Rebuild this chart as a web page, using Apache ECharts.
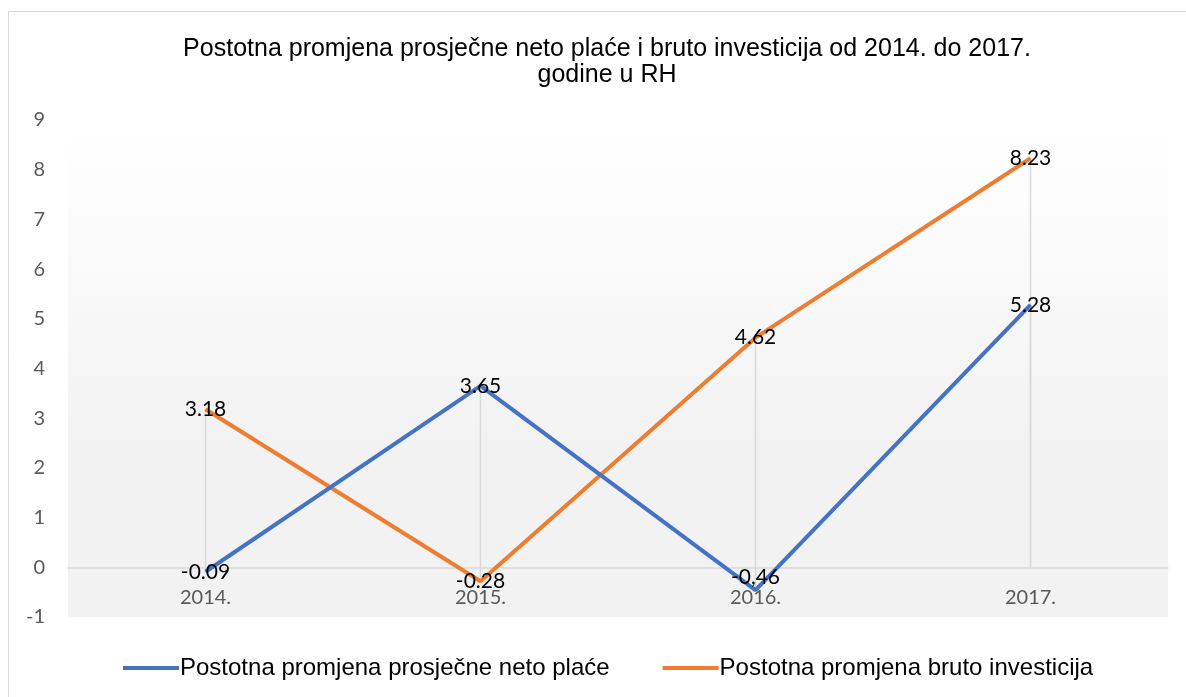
<!DOCTYPE html>
<html>
<head>
<meta charset="utf-8">
<script src="https://cdn.jsdelivr.net/npm/echarts@6/dist/echarts.min.js"></script>
<style>
  html, body { margin: 0; padding: 0; background: #fff; }
  #chart { width: 1186px; height: 697px; }
</style>
</head>
<body>
<div id="chart"></div>
<script>
// podaci
var godine = ['2014.', '2015.', '2016.', '2017.'];
var netoPlace = [-0.09, 3.65, -0.46, 5.28];
var brutoInvesticije = [3.18, -0.28, 4.62, 8.23];
// oznake kako su napisane na slici (2016. ima zarez)
var netoOznake = ['-0.09', '3.65', '-0,46', '5.28'];
var brutoOznake = ['3.18', '-0.28', '4.62', '8.23'];

var nazivNeto = 'Postotna promjena prosječne neto plaće';
var nazivBruto = 'Postotna promjena bruto investicija';

var chart = echarts.init(document.getElementById('chart'));

// okomite linije od točke do osi
var dropData = [];
godine.forEach(function (g, i) {
    dropData.push([i, netoPlace[i]]);
    dropData.push([i, brutoInvesticije[i]]);
});

function dropLine(params, api) {
    var a = api.coord([api.value(0), api.value(1)]);
    var b = api.coord([api.value(0), 0]);
    return {
        type: 'line',
        shape: { x1: a[0], y1: a[1], x2: b[0], y2: b[1] },
        style: { stroke: '#d9d9d9', lineWidth: 1.5 }
    };
}

function oznaka(lista) {
    return {
        show: true,
        position: 'inside',
        fontFamily: 'Lato',
        fontSize: 21,
        color: '#000',
        formatter: function (p) { return lista[p.dataIndex]; }
    };
}

// oznaka za 2016. je u Excelu malo podignuta
var netoData = netoPlace.map(function (v, i) {
    if (i === 2) return { value: v, label: { offset: [0, -13] } };
    return v;
});

var option = {
    backgroundColor: '#ffffff',
    animation: false,
    graphic: [{
        type: 'rect',
        shape: { x: 8.5, y: 11.5, width: 1190, height: 700 },
        style: { fill: 'none', stroke: '#d9d9d9', lineWidth: 1 },
        silent: true
    }],
    title: {
        text: 'Postotna promjena prosječne neto plaće i bruto investicija od 2014. do 2017.\ngodine u RH',
        left: 602,
        textAlign: 'center',
        top: 31,
        textStyle: {
            fontFamily: 'Liberation Sans',
            fontSize: 25,
            fontWeight: 'normal',
            color: '#000',
            lineHeight: 26
        }
    },
    legend: {
        data: [nazivNeto, nazivBruto],
        left: 118,
        top: 651,
        icon: 'rect',
        itemWidth: 56,
        itemHeight: 4,
        itemGap: 53,
        textStyle: { fontFamily: 'Liberation Sans', fontSize: 24, color: '#000', padding: [0, 0, 0, -4] }
    },
    grid: {
        left: 68,
        right: 18,
        top: 120,
        bottom: 80,
        show: true,
        borderWidth: 0,
        backgroundColor: {
            type: 'linear', x: 0, y: 0, x2: 0, y2: 1,
            colorStops: [
                { offset: 0, color: '#ffffff' },
                { offset: 0.13, color: '#fdfdfd' },
                { offset: 0.65, color: '#f2f2f2' },
                { offset: 1, color: '#f2f2f2' }
            ]
        }
    },
    xAxis: {
        type: 'category',
        data: godine,
        boundaryGap: true,
        axisLine: { show: true, onZero: true, lineStyle: { color: '#d9d9d9', width: 1.5 } },
        axisTick: { show: false },
        axisLabel: { color: '#595959', fontFamily: 'Lato', fontSize: 20, margin: -29 },
        splitLine: { show: false }
    },
    yAxis: {
        type: 'value',
        min: -1,
        max: 9,
        interval: 1,
        axisLine: { show: false },
        axisTick: { show: false },
        splitLine: { show: false },
        axisLabel: { color: '#595959', fontFamily: 'Lato', fontSize: 20, margin: 23 }
    },
    series: [
        {
            type: 'custom',
            renderItem: dropLine,
            data: dropData,
            silent: true,
            z: 1
        },
        {
            name: nazivNeto,
            type: 'line',
            data: netoData,
            showSymbol: true,
            symbol: 'circle',
            symbolSize: 1,
            lineStyle: { color: '#4472c4', width: 4 },
            itemStyle: { color: '#4472c4' },
            z: 3,
            label: oznaka(netoOznake)
        },
        {
            name: nazivBruto,
            type: 'line',
            data: brutoInvesticije,
            showSymbol: true,
            symbol: 'circle',
            symbolSize: 1,
            lineStyle: { color: '#ed7d31', width: 4 },
            itemStyle: { color: '#ed7d31' },
            z: 2,
            label: oznaka(brutoOznake)
        }
    ]
};

chart.setOption(option);
</script>
</body>
</html>
